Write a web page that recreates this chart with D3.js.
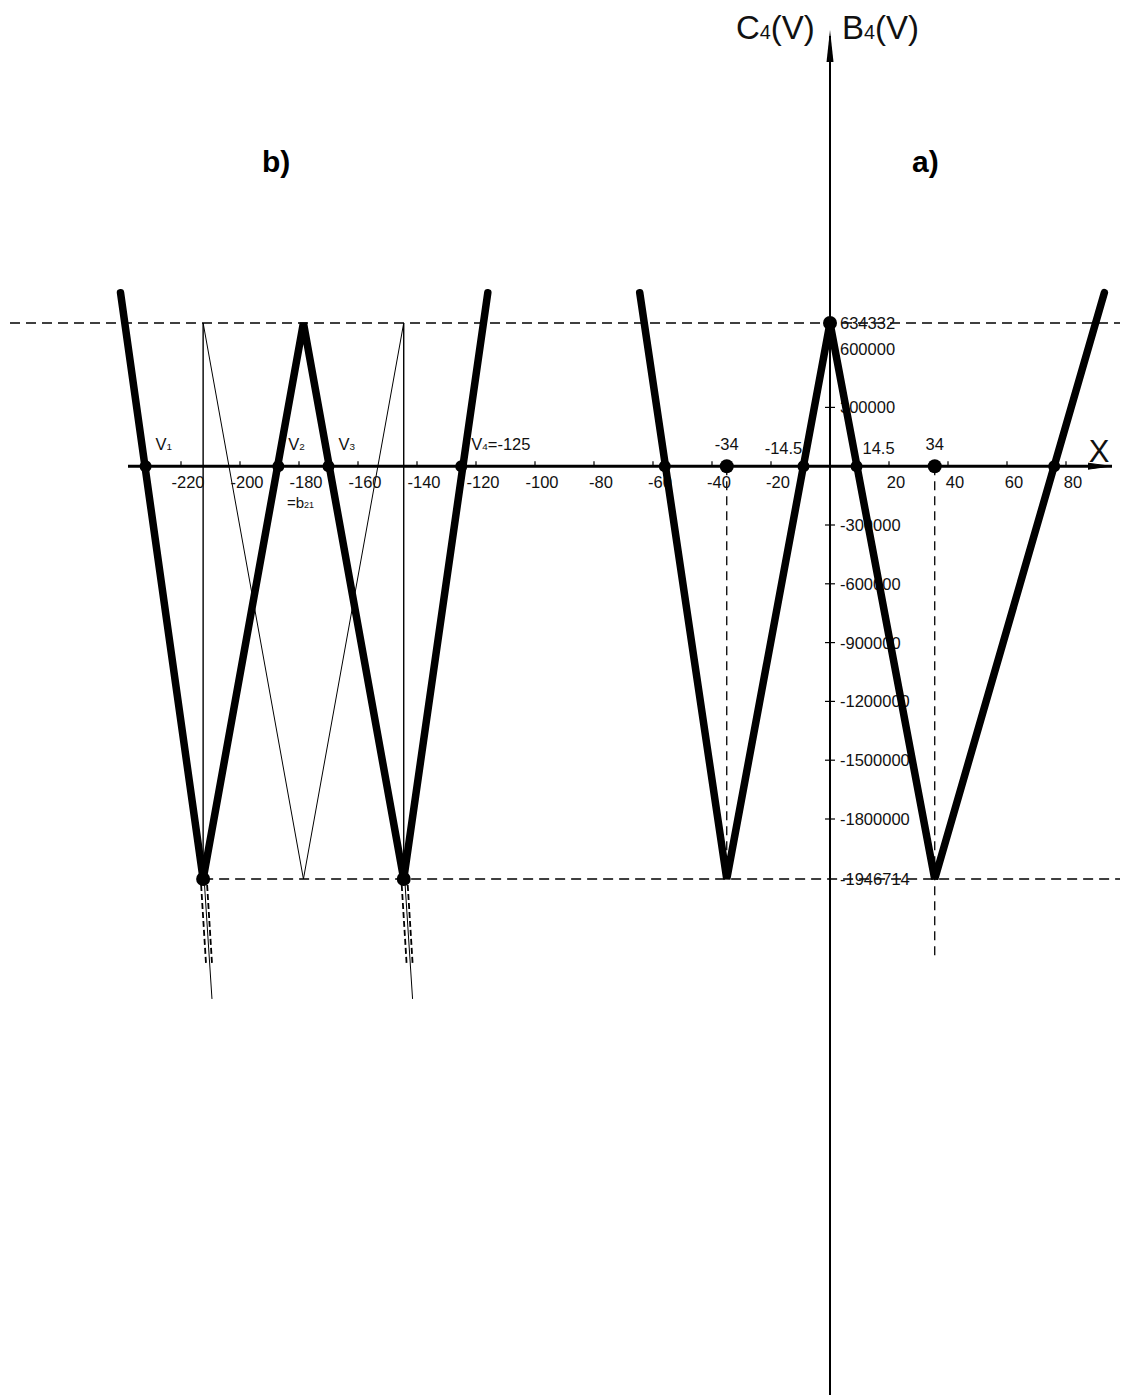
<!DOCTYPE html>
<html>
<head>
<meta charset="utf-8">
<script src="https://cdn.jsdelivr.net/npm/d3@7"></script>
<style>
  body { margin: 0; background: #fff; }
  svg { display: block; font-family: "Liberation Sans", Arial, sans-serif; }
</style>
</head>
<body>
<div id="chart"></div>
<script>
// values
const xTicks = [-220, -200, -180, -160, -140, -120, -100, -80, -60, -40, -20, 20, 40, 60, 80];
const yTicks = [600000, 300000, -300000, -600000, -900000, -1200000, -1500000, -1800000];
const yMax = 634332;
const yMin = -1946714;
const yTop = 675000;       // where the thick lines stop
const yTail = -2240000;    // bottom of the little tails under b)

// b) thick W
const seriesB = [
  { x: -240.5, y: yTop }, { x: -212.5, y: yMin }, { x: -178.5, y: yMax },
  { x: -144.5, y: yMin }, { x: -116, y: yTop }
];
// b) thin construction lines
const thinB = [{ x: -212.5, y: yMax }, { x: -178.5, y: yMin }, { x: -144.5, y: yMax }];
const thinVert = [-212.5, -144.5];
// a) thick W
const seriesA = [
  { x: -64.5, y: yTop }, { x: -35, y: yMin }, { x: 0, y: yMax },
  { x: 35.5, y: yMin }, { x: 93, y: yTop }
];
const rootsB = [-232, -187, -170, -125];
const rootsA = [-56, -9, 9, 76];
const markedA = [-35, 35.5];      // labelled -34 / 34
const vertexDots = [{ x: -212.5, y: yMin }, { x: -144.5, y: yMin }, { x: 0, y: yMax }];

const width = 1123;
const height = 1395;
const fs = 16.5;

const svg = d3.select("#chart").append("svg")
  .attr("width", width)
  .attr("height", height)
  .attr("viewBox", [0, 0, width, height]);

const x = d3.scaleLinear([-220, 0], [181, 830]);
// the drawing is not to one scale: the two extremes sit off the tick ladder
const y = d3.scaleLinear([yMin, -1800000, 600000, yMax], [879, 819, 348.6, 323]);

const x0 = x(0), yAxis0 = y(0);

// dashed guide lines
svg.append("line")
  .attr("x1", 10).attr("x2", 1120).attr("y1", y(yMax)).attr("y2", y(yMax))
  .attr("stroke", "#000").attr("stroke-width", 1.5).attr("stroke-dasharray", "10,6");
svg.append("line")
  .attr("x1", x(-212.5)).attr("x2", 1120).attr("y1", y(yMin)).attr("y2", y(yMin))
  .attr("stroke", "#000").attr("stroke-width", 1.5).attr("stroke-dasharray", "10,6");
svg.selectAll(".vdash").data(markedA).join("line")
  .attr("x1", d => x(d)).attr("x2", d => x(d))
  .attr("y1", yAxis0).attr("y2", (d, i) => i === 0 ? y(yMin) : y(yMin) + 80)
  .attr("stroke", "#000").attr("stroke-width", 1.3).attr("stroke-dasharray", "9,6");

// thin construction lines of b)
svg.selectAll(".thinv").data(thinVert).join("line")
  .attr("x1", d => x(d)).attr("x2", d => x(d))
  .attr("y1", y(yMax)).attr("y2", y(yMin))
  .attr("stroke", "#000").attr("stroke-width", 1.4);
const line = d3.line().x(d => x(d.x)).y(d => y(d.y));
svg.append("path").attr("d", line(thinB))
  .attr("fill", "none").attr("stroke", "#000").attr("stroke-width", 1);

// tails under the b) vertices
thinVert.forEach(v => {
  svg.append("line")
    .attr("x1", x(v) + 1).attr("y1", y(yMin)).attr("x2", x(v + 3)).attr("y2", y(yTail))
    .attr("stroke", "#000").attr("stroke-width", 1);
  [-3, 3].forEach(o => {
    svg.append("line")
      .attr("x1", x(v) + o + 1).attr("y1", y(yMin) + 6).attr("x2", x(v + 2) + o).attr("y2", y(yTail) - 35)
      .attr("stroke", "#000").attr("stroke-width", 1.8).attr("stroke-dasharray", "6,3");
  });
});

// axes
svg.append("line")
  .attr("x1", 128).attr("x2", 1112).attr("y1", yAxis0).attr("y2", yAxis0)
  .attr("stroke", "#000").attr("stroke-width", 3);
svg.append("path")
  .attr("d", `M1088,${yAxis0 - 3} L1110,${yAxis0} L1088,${yAxis0 + 3}`)
  .attr("fill", "#000").attr("stroke", "#000").attr("stroke-width", 1);
svg.append("line")
  .attr("x1", x0).attr("x2", x0).attr("y1", 1395).attr("y2", 36)
  .attr("stroke", "#000").attr("stroke-width", 2);
svg.append("path")
  .attr("d", `M${x0},30 L${x0 + 3.5},62 L${x0 - 3.5},62 Z`)
  .attr("fill", "#000");

// x ticks
svg.selectAll(".xt").data(xTicks).join("line")
  .attr("x1", d => x(d)).attr("x2", d => x(d))
  .attr("y1", yAxis0 - 5).attr("y2", yAxis0)
  .attr("stroke", "#000").attr("stroke-width", 1.2);
svg.selectAll(".xl").data(xTicks).join("text")
  .attr("x", d => x(d) + 7).attr("y", yAxis0 + 22)
  .attr("text-anchor", "middle").attr("font-size", fs).attr("fill", "#111")
  .text(d => d);

// y ticks
svg.selectAll(".yt").data(yTicks).join("line")
  .attr("x1", x0 - 5).attr("x2", x0 + 5)
  .attr("y1", d => y(d)).attr("y2", d => y(d))
  .attr("stroke", "#000").attr("stroke-width", 1.2);
svg.selectAll(".yl").data(yTicks.concat([yMax, yMin])).join("text")
  .attr("x", x0 + 10).attr("y", d => y(d) + 6)
  .attr("font-size", fs).attr("fill", "#111")
  .text(d => d);

// thick W curves
[seriesB, seriesA].forEach(s => {
  svg.append("path").attr("d", line(s))
    .attr("fill", "none").attr("stroke", "#000")
    .attr("stroke-width", 7.5).attr("stroke-linejoin", "miter").attr("stroke-linecap", "round");
});

// dots
svg.selectAll(".root").data(rootsB.concat(rootsA)).join("circle")
  .attr("cx", d => x(d)).attr("cy", yAxis0).attr("r", 6).attr("fill", "#000");
svg.selectAll(".mark").data(markedA).join("circle")
  .attr("cx", d => x(d)).attr("cy", yAxis0).attr("r", 7).attr("fill", "#000");
svg.selectAll(".vtx").data(vertexDots).join("circle")
  .attr("cx", d => x(d.x)).attr("cy", d => y(d.y)).attr("r", 7).attr("fill", "#000");

// annotation texts
function subText(tx, ty, main, sub, rest, size) {
  const t = svg.append("text").attr("x", tx).attr("y", ty)
    .attr("font-size", size).attr("fill", "#111");
  t.append("tspan").text(main);
  t.append("tspan").attr("font-size", size * 0.6).text(sub);
  if (rest) t.append("tspan").text(rest);
  return t;
}
const rootLabels = [["V", "1", ""], ["V", "2", ""], ["V", "3", ""], ["V", "4", "=-125"]];
rootsB.forEach((r, i) => {
  subText(x(r) + 10, yAxis0 - 16, rootLabels[i][0], rootLabels[i][1], rootLabels[i][2], fs);
});
subText(x(-180) - 12, yAxis0 + 42, "=b", "21", "", 15);

const aLabels = [["-34", markedA[0], 0], ["-14.5", rootsA[1], -20], ["14.5", rootsA[2], 22], ["34", markedA[1], 0]];
aLabels.forEach(([t, v, dx], i) => {
  svg.append("text")
    .attr("x", x(v) + dx).attr("y", yAxis0 - (i === 0 || i === 3 ? 16 : 12))
    .attr("text-anchor", "middle").attr("font-size", fs).attr("fill", "#111")
    .text(t);
});

svg.append("text").attr("x", 1099).attr("y", 462)
  .attr("text-anchor", "middle").attr("font-size", 31).attr("fill", "#111").text("X");

subText(736, 39, "C", "4", "(V)", 33);
subText(842, 39, "B", "4", "(V)", 33);

svg.append("text").attr("x", 262).attr("y", 172)
  .attr("font-size", 30).attr("font-weight", "bold").text("b)");
svg.append("text").attr("x", 912).attr("y", 172)
  .attr("font-size", 30).attr("font-weight", "bold").text("a)");
</script>
</body>
</html>
